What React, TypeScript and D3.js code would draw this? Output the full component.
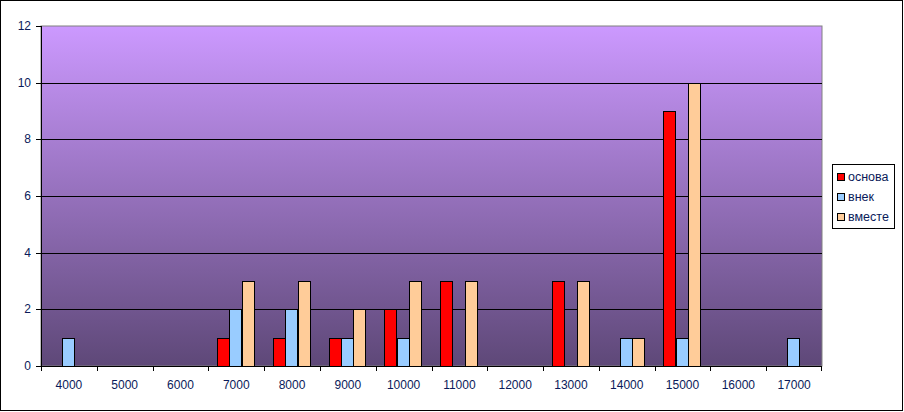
import React from "react";
import * as d3 from "d3";

const categories = ["4000","5000","6000","7000","8000","9000","10000","11000","12000","13000","14000","15000","16000","17000"];
const seriesNames = ["основа", "внек", "вместе"];
const osnova = [0,0,0,1,1,1,2,3,0,3,0,9,0,0];
const vnek = [1,0,0,2,2,1,1,0,0,0,1,1,0,1];
const vmeste = [0,0,0,3,3,2,3,3,0,3,1,10,0,0];
const yTicks = [0,2,4,6,8,10,12];
const colors = ["#FF0000", "#99CCFF", "#FFCC99"];

export default function App() {
  const W = 904, H = 412;
  const left = 41, right = 822, top = 26, bottom = 366;
  const x = d3.scaleBand().domain(categories).range([left, right]).paddingInner(0).paddingOuter(0);
  const y = d3.scaleLinear().domain([0, 12]).range([bottom, top]);
  const bw = x.bandwidth() / 4.5;
  const series = [osnova, vnek, vmeste];
  const font = "'Liberation Sans', Arial, sans-serif";
  return (
    <svg width={W} height={H} style={{ position: "absolute", left: 0, top: 0 }}>
      <defs>
        <linearGradient id="bg" x1="0" y1="0" x2="0" y2="1">
          <stop offset="0" stopColor="#CC99FF" />
          <stop offset="1" stopColor="#5E4878" />
        </linearGradient>
      </defs>
      <rect x={0.5} y={0.5} width={W - 2} height={H - 2} fill="#fff" stroke="#000" strokeWidth={1} />
      <rect x={left} y={top} width={right - left} height={bottom - top} fill="url(#bg)" stroke="#808080" strokeWidth={1} />
      {yTicks.filter(t => t > 0 && t < 12).map(t => (
        <line key={"g" + t} x1={left} x2={right} y1={Math.round(y(t)) + 0.5} y2={Math.round(y(t)) + 0.5} stroke="#000" />
      ))}
      {series.map((vals, si) =>
        vals.map((v, ci) => v > 0 ? (
          <rect key={si + "-" + ci}
            x={Math.round((x(categories[ci]) as number) + bw * 0.7 + si * bw) + 0.5}
            y={Math.round(y(v)) + 0.5}
            width={Math.round(bw)}
            height={Math.round(y(0)) - Math.round(y(v))}
            fill={colors[si]} stroke="#000" strokeWidth={1} />
        ) : null)
      )}
      <line x1={left + 0.5} x2={left + 0.5} y1={top} y2={bottom} stroke="#000" />
      <line x1={left} x2={right} y1={bottom + 0.5} y2={bottom + 0.5} stroke="#000" />
      {yTicks.map(t => (
        <g key={"y" + t}>
          <line x1={left - 5} x2={left} y1={Math.round(y(t)) + 0.5} y2={Math.round(y(t)) + 0.5} stroke="#000" />
          <text x={31} y={y(t) + 4} textAnchor="end" fontFamily={font} fontSize={12} fill="#0A1A5A">{t}</text>
        </g>
      ))}
      {categories.map((c, i) => (
        <g key={"x" + c}>
          <line x1={Math.round(x(c) as number) + 0.5} x2={Math.round(x(c) as number) + 0.5} y1={bottom} y2={bottom + 5} stroke="#000" />
          <text x={(x(c) as number) + x.bandwidth() / 2} y={389} textAnchor="middle" fontFamily={font} fontSize={12} fill="#0A1A5A">{c}</text>
        </g>
      ))}
      <line x1={right - 0.5} x2={right - 0.5} y1={bottom} y2={bottom + 5} stroke="#000" />
      <rect x={832.5} y={164.5} width={62} height={64} fill="#fff" stroke="#000" />
      {seriesNames.map((n, i) => (
        <g key={n}>
          <rect x={837.5} y={173.5 + i * 20} width={7} height={7} fill={colors[i]} stroke="#000" />
          <text x={848} y={181 + i * 20} fontFamily={font} fontSize={12.5} fill="#0A1A5A">{n}</text>
        </g>
      ))}
    </svg>
  );
}
